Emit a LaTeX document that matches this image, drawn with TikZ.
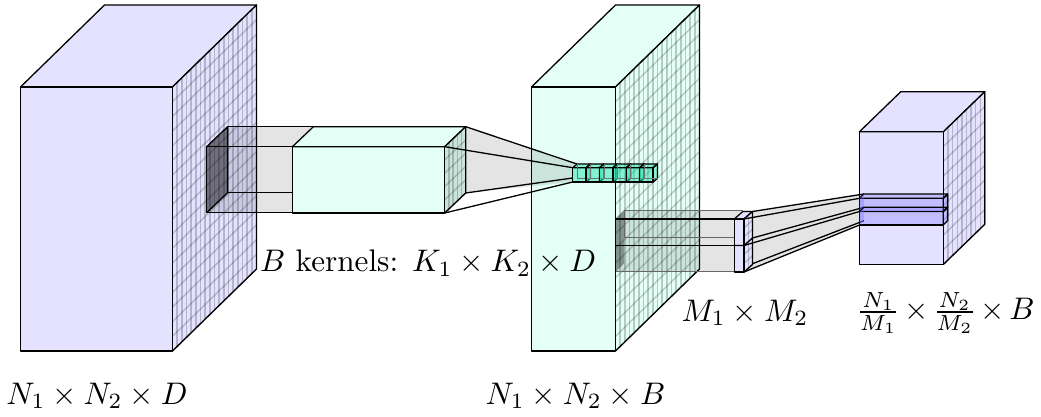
\documentclass[tikz,border=0pt]{standalone}
\usepackage{amsmath}
\usepackage{graphicx}
\definecolor{lav}{HTML}{E4E2FF}
\definecolor{mint}{HTML}{E3FFF6}
\definecolor{cubec}{HTML}{20E8B0}
\definecolor{stripec}{HTML}{7A72FF}
\newcommand{\biglabel}[1]{\scalebox{1.56}{#1}}
\tikzset{x=0.5pt,y=-0.5pt,
 edge/.style={draw=black,line width=0.65pt,line join=round},
 thinedge/.style={draw=black!60,line width=0.5pt,line join=round},
 gridl/.style={draw=black,draw opacity=0.2,line width=0.7pt},
 cone/.style={fill=black,fill opacity=0.105},
 ghost/.style={fill=black,fill opacity=0.105},
 ghostdark/.style={fill=black,fill opacity=0.45},
 cubeface/.style={edge,fill=cubec,fill opacity=0.5},
 stripeface/.style={edge,fill=stripec,fill opacity=0.32},
 lbl/.style={inner sep=0pt}}
% #1 x0, #2 y0 front top-left, #3 w, #4 h, #5 dx, #6 dy (positive), #7 colour, #8 cols, #9 rows
\newcommand{\blockbox}[9]{%
 \fill[#7] (#1,#2) rectangle ++(#3,#4);
 \path[edge,fill=#7] (#1,#2) -- ++(#5,-#6) -- ++(#3,0) -- ++(-#5,#6) -- cycle;
 \fill[#7] (#1+#3,#2) -- ++(#5,-#6) -- ++(0,#4) -- ++(-#5,#6) -- cycle;
 \pgfmathsetmacro{\cw}{#5/#8}\pgfmathsetmacro{\ch}{#4/#9}
 \foreach \i in {1,...,#8}{\draw[gridl] ({#1+#3+\i*\cw},{#2-\i*#6/#8}) -- ++(0,#4);}
 \foreach \j in {1,...,#9}{\draw[gridl] ({#1+#3},{#2+\j*\ch}) -- ++(#5,-#6);}
 \draw[edge] (#1,#2) rectangle ++(#3,#4);
 \draw[edge] (#1+#3,#2) -- ++(#5,-#6) -- ++(0,#4) -- ++(-#5,#6);
}
\begin{document}
\begin{tikzpicture}
\useasboundingbox (0,0) rectangle (1041,417);
% large blocks
\blockbox{20.5}{87}{152}{264}{84}{82}{lav}{18}{18}
\blockbox{531.5}{87}{84}{264}{84}{82}{mint}{18}{18}
\blockbox{859.5}{131.7}{84}{132.6}{41.3}{40}{lav}{9}{9}
% kernel on first block
\path[ghost] (206.7,146.7) -- (227.6,126.7) -- (313.2,126.7) -- (292.4,146.7) -- (292.4,212.7) -- (206.7,212.7) -- cycle;
\path[ghostdark] (206.7,146.7) -- (227.6,126.7) -- (227.6,192.7) -- (206.7,212.7) -- cycle;
\draw[edge] (227.6,126.7) -- (313.2,126.7);
\draw[edge] (227.6,192.7) -- (292.4,192.7);
\draw[edge] (206.7,146.7) rectangle (292.4,212.7);
\draw[edge] (206.7,146.7) -- (227.6,126.7) -- (227.6,192.7) -- (206.7,212.7);
% mint kernel
\blockbox{292.4}{146.7}{152.3}{66.3}{21}{20}{mint}{5}{5}
% cone to small cubes
\path[cone] (465.7,126.7) -- (577,164) -- (572.7,167.7) -- (572.7,182) -- (465.7,193) -- (444.7,213) -- (444.7,146.7) -- cycle;
\draw[edge] (465.7,126.7) -- (577,164);
\draw[edge] (444.7,146.7) -- (572.7,167.7);
\draw[edge] (465.7,193) -- (572.7,178);
\draw[edge] (444.7,213) -- (572.7,182);
% small cubes
\foreach \k [evaluate=\k as \xx using 572.7+\k*13.4] in {0,...,5}{
 \path[cubeface] (\xx,167.7) rectangle ++(13.4,14.3);
 \path[cubeface] (\xx,167.7) -- ++(4.4,-3.7) -- ++(13.4,0) -- ++(-4.4,3.7) -- cycle;
 \path[cubeface] (\xx+13.4,167.7) -- ++(4.4,-3.7) -- ++(0,14.3) -- ++(-4.4,3.7) -- cycle;
 \draw[draw=black!55,line width=0.3pt] (\xx+4.4,164) -- ++(0,14.3) -- ++(13.4,0);
}
% second kernel
\path[ghost] (615.7,219) -- (624,211) -- (742.6,211) -- (734.3,219) -- (734.3,272) -- (615.7,272) -- cycle;
\path[ghostdark,fill opacity=0.35] (615.7,219) -- (624,211) -- (624,263.7) -- (615.7,272) -- cycle;
\draw[thinedge] (624,211) -- (742.6,211);
\draw[thinedge] (624,211) -- (624,237.3);
\draw[edge] (615.7,219) -- (734.3,219);
\draw[thinedge] (624,237.3) -- (734.3,237.3);
\draw[edge] (615.7,245.5) -- (734.3,245.5);
\draw[thinedge] (615.7,272) -- (734.3,272);
% lavender slab
\blockbox{734.3}{219}{9.7}{53}{8.5}{7.5}{lav}{2}{6}
\draw[edge] (734.3,245.5) -- (744,245.5) -- (752.5,238);
% cone to stripes
\path[cone] (752.5,211.5) -- (864,194) -- (859.5,198.3) -- (859.5,225) -- (744,272) -- (752.5,263.7) -- cycle;
\draw[edge] (752.5,211.5) -- (864,194);
\draw[edge] (744,219) -- (859.5,198.3);
\draw[edge] (752.5,238) -- (864,207.3);
\draw[edge] (744,245.5) -- (859.5,211.5);
\draw[edge] (752.5,263.7) -- (864,220.7);
\draw[edge] (744,272) -- (859.5,225);
% stripes
\foreach \yy in {198.3,211.6}{
 \path[stripeface] (859.5,\yy) rectangle ++(83.8,13.3);
 \path[stripeface] (859.5,\yy) -- ++(4.3,-4.3) -- ++(83.8,0) -- ++(-4.3,4.3) -- cycle;
 \path[stripeface] (943.3,\yy) -- ++(4.3,-4.3) -- ++(0,13.3) -- ++(-4.3,4.3) -- cycle;
 \path[fill=stripec,fill opacity=0.35] (859.5,\yy) -- (863.8,\yy-4.3) -- (863.8,\yy+9) -- (859.5,\yy+13.3) -- cycle;
}
% labels
\node[lbl] (a) at (97,396) {\biglabel{$N_1\times N_2\times D$}};
\node[lbl] (b) at (575.5,396) {\biglabel{$N_1\times N_2\times B$}};
\node[lbl] (c) at (428,263) {\biglabel{$B$ kernels: $K_1\times K_2\times D$}};
\node[lbl] (d) at (745,313) {\biglabel{$M_1\times M_2$}};
\node[lbl] (e) at (945.5,313) {\biglabel{$\medmuskip=2.5mu\frac{N_1}{M_1}\times\frac{N_2}{M_2}\times B$}};
\end{tikzpicture}
\end{document}
